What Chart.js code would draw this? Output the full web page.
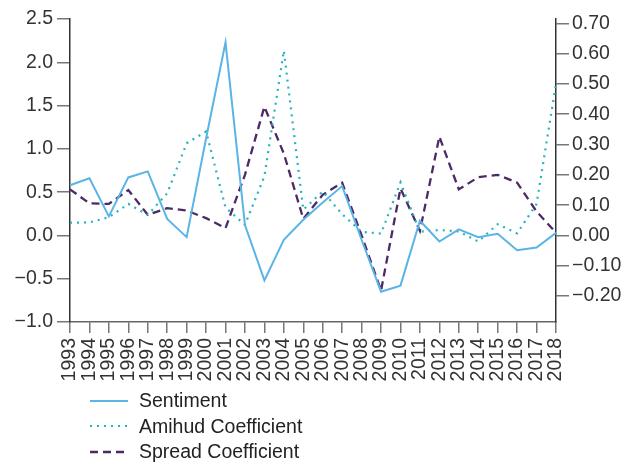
<!DOCTYPE html>
<html>
<head>
<meta charset="utf-8">
<script src="https://cdn.jsdelivr.net/npm/chart.js@4.4.1/dist/chart.umd.min.js"></script>
<style>
  body { margin: 0; background: #fff; }
  #wrap { position: relative; width: 635px; height: 465px; }
  #legend { position: absolute; left: 90px; top: 388px; font-family: 'Liberation Sans', Arial, sans-serif; font-size: 19.5px; color: #222; }
  .row { display: flex; align-items: center; height: 25.5px; }
  .row svg { margin-right: 11px; }
</style>
</head>
<body>
<div id="wrap">
  <canvas id="chart"></canvas>
  <div id="legend"></div>
</div>
<script>
const years = ['1993','1994','1995','1996','1997','1998','1999','2000','2001','2002','2003','2004','2005',
               '2006','2007','2008','2009','2010','2011','2012','2013','2014','2015','2016','2017','2018'];
// left axis
const sentiment = [0.58, 0.66, 0.22, 0.67, 0.74, 0.19, -0.02, 1.12, 2.23, 0.12, -0.52, -0.05, 0.18,
                   0.38, 0.57, -0.05, -0.65, -0.58, 0.17, -0.07, 0.07, -0.02, 0.02, -0.17, -0.14, 0.03];
// right axis
const amihud = [0.042, 0.043, 0.06, 0.104, 0.068, 0.139, 0.304, 0.343, 0.092, 0.035, 0.195, 0.61, 0.085,
                0.145, 0.07, 0.012, 0.006, 0.175, 0.012, 0.018, 0.013, -0.02, 0.037, 0.007, 0.104, 0.5];
const spread = [0.152, 0.106, 0.104, 0.15, 0.068, 0.09, 0.082, 0.057, 0.024, 0.2, 0.425, 0.27, 0.055,
                0.134, 0.174, 0.0, -0.182, 0.155, 0.015, 0.326, 0.152, 0.192, 0.2, 0.174, 0.079, 0.009];

const leftMin = -1.0, leftMax = 2.5, leftStep = 0.5;
const rightTicks = [-0.2, -0.1, 0.0, 0.1, 0.2, 0.3, 0.4, 0.5, 0.6, 0.7];
// right axis scaled so both zeros line up
const rightMin = leftMin / (leftMax - leftMin);
const rightMax = leftMax / (leftMax - leftMin);

const fmt = (v, d) => {
  const s = Math.abs(v).toFixed(d);
  return (v < -1e-9 ? '\u2212' : '') + s;
};

Chart.defaults.font.family = "'Liberation Sans', Arial, sans-serif";
Chart.defaults.font.size = 19.5;
Chart.defaults.color = '#333';

const ctx = document.getElementById('chart').getContext('2d');
const chart = new Chart(ctx, {
    type: 'line',
    data: {
        labels: years,
        datasets: [{
            label: 'Sentiment',
            data: sentiment,
            yAxisID: 'y',
            borderColor: '#5ab4e6',
            borderWidth: 2,
            borderDash: []
        }, {
            label: 'Amihud Coefficient',
            data: amihud,
            yAxisID: 'y1',
            borderColor: '#25b3bd',
            borderWidth: 2.2,
            borderDash: [2, 5]
        }, {
            label: 'Spread Coefficient',
            data: spread,
            yAxisID: 'y1',
            borderColor: '#4b2a66',
            borderWidth: 2.3,
            borderDash: [8, 5]
        }]
    },
    options: {
        responsive: true,
        maintainAspectRatio: false,
        animation: false,
        elements: {
            point: { radius: 0, hoverRadius: 0 },
            line: { tension: 0, fill: false, borderCapStyle: 'butt' }
        },
        layout: { padding: { top: 19, bottom: 78, left: 0, right: 0 } },
        scales: {
            x: {
                offset: false,
                grid: { drawOnChartArea: false, color: '#777', tickLength: 11, lineWidth: 1.5, offset: false },
                border: { color: '#666', width: 1.5 },
                ticks: { autoSkip: false, minRotation: 90, maxRotation: 90, padding: 5, color: '#333' },
                afterFit: s => { s.height = 65; }
            },
            y: {
                position: 'left',
                min: leftMin,
                max: leftMax,
                grid: { drawOnChartArea: false, color: '#777', tickLength: 13, lineWidth: 1.5 },
                border: { color: '#333', width: 1.5 },
                ticks: { stepSize: leftStep, padding: 4, color: '#333', callback: v => fmt(v, 1) },
                afterFit: s => { s.width = 70; }
            },
            y1: {
                position: 'right',
                min: rightMin,
                max: rightMax,
                grid: { drawOnChartArea: false, color: '#777', tickLength: 13, lineWidth: 1.5 },
                border: { color: '#333', width: 1.5 },
                afterBuildTicks: s => { s.ticks = rightTicks.map(v => ({ value: v })); },
                ticks: { padding: 3, color: '#333', callback: v => fmt(v, 2) },
                afterFit: s => { s.width = 79; }
            }
        },
        plugins: {
            legend: { display: false },
            tooltip: { enabled: false }
        }
    }
});

// legend stacked under the chart
const legend = document.getElementById('legend');
chart.data.datasets.forEach(ds => {
    const row = document.createElement('div');
    row.className = 'row';
    const dash = ds.borderDash.length ? ds.borderDash.join(' ') : 'none';
    row.innerHTML = '<svg width="38" height="6"><line x1="0" y1="3" x2="38" y2="3" stroke="' + ds.borderColor +
        '" stroke-width="' + ds.borderWidth + '" stroke-dasharray="' + dash + '"/></svg><span>' + ds.label + '</span>';
    legend.appendChild(row);
});
</script>
</body>
</html>
